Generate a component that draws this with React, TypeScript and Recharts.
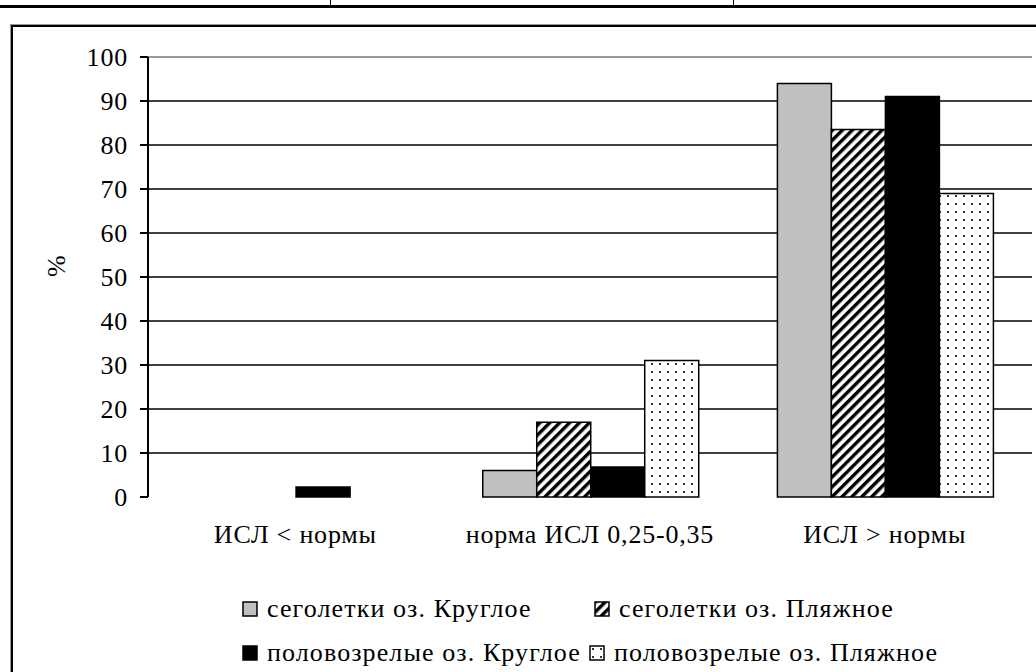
import { BarChart, Bar, XAxis, YAxis, CartesianGrid, ReferenceLine } from 'recharts';

const categories = ['ИСЛ < нормы', 'норма ИСЛ 0,25-0,35', 'ИСЛ > нормы'];
const segoletkiKrugloe = [0, 6, 94];
const segoletkiPlyazhnoe = [0, 17, 83.5];
const polovozrelyeKrugloe = [2.3, 6.8, 91];
const polovozrelyePlyazhnoe = [0, 31, 69];
const seriesNames = [
  'сеголетки оз. Круглое',
  'сеголетки оз. Пляжное',
  'половозрелые оз. Круглое',
  'половозрелые оз. Пляжное',
];
const yTicks = [0, 10, 20, 30, 40, 50, 60, 70, 80, 90, 100];
const gridTicks = [10, 20, 30, 40, 50, 60, 70, 80, 90];
const boundaryTicks = [0, 1, 2, 3];

const seriesValues = [segoletkiKrugloe, segoletkiPlyazhnoe, polovozrelyeKrugloe, polovozrelyePlyazhnoe];
const fills = ['#c0c0c0', 'url(#hatch)', '#000000', 'url(#dots)'];

const data = categories.map((name, i) => {
  const row: Record<string, string | number> = { name };
  seriesValues.forEach((vals, j) => {
    row['s' + j] = vals[i];
  });
  return row;
});

const FONT = '"Liberation Serif", "Times New Roman", serif';
const FS = 26;
const LS = 0.8;

export default function App() {
  // legend item positions (left, top) in reading order
  const legendPos = [
    [242, 594],
    [594, 594],
    [242, 638],
    [589, 638],
  ];
  const tickStyle = { fill: '#000', fontFamily: FONT, fontSize: FS, letterSpacing: LS };

  return (
    <div style={{ position: 'fixed', left: 0, top: 0, width: 1036, height: 672, overflow: 'hidden', background: '#fff' }}>
      <svg width={0} height={0} style={{ position: 'absolute' }}>
        <defs>
          <pattern id='hatch' width={7} height={7} patternUnits='userSpaceOnUse' patternTransform='rotate(45)'>
            <rect width={7} height={7} fill='#fff' />
            <rect x={0} y={0} width={3.4} height={7} fill='#000' />
          </pattern>
          <pattern id='dots' width={8} height={8} patternUnits='userSpaceOnUse'>
            <rect width={8} height={8} fill='#fff' />
            <rect x={3} y={3} width={2} height={2} fill='#333' />
          </pattern>
        </defs>
      </svg>

      {/* table borders above the figure */}
      <div style={{ position: 'absolute', left: 0, top: 5, width: 1036, height: 3, background: '#000' }} />
      <div style={{ position: 'absolute', left: 330, top: 0, width: 1, height: 7, background: '#000' }} />
      <div style={{ position: 'absolute', left: 733, top: 0, width: 1, height: 7, background: '#000' }} />

      {/* chart frame */}
      <div
        style={{
          position: 'absolute',
          left: 11,
          top: 25,
          width: 1100,
          height: 700,
          borderLeft: '2px solid #000',
          borderTop: '2px solid #000',
          boxShadow: '-1px -1px 0 #999',
        }}
      />

      <div style={{ position: 'absolute', left: 0, top: 0 }}>
        <BarChart
          width={1036}
          height={672}
          data={data}
          margin={{ top: 57, right: 4, bottom: 0, left: 0 }}
          barCategoryGap='13.6%'
          barGap={0}
        >
          <CartesianGrid horizontal vertical={false} horizontalValues={gridTicks} stroke='#000' strokeWidth={1.6} />
          <XAxis
            xAxisId='b'
            type='number'
            domain={[0, 3]}
            ticks={boundaryTicks}
            tick={false}
            tickSize={8}
            height={0}
            stroke='#000'
            strokeWidth={2}
          />
          <XAxis
            dataKey='name'
            tickLine={false}
            axisLine={false}
            height={175}
            tickMargin={22}
            tick={tickStyle}
          />
          <YAxis
            domain={[0, 100]}
            ticks={yTicks}
            width={148}
            tickSize={8}
            tickMargin={12}
            stroke='#000'
            strokeWidth={2}
            tick={tickStyle}
            label={{ value: '%', angle: -90, position: 'insideLeft', offset: 56, fill: '#000', fontFamily: FONT, fontSize: FS }}
          />
          <ReferenceLine y={100} stroke='#999' strokeWidth={2} />
          <ReferenceLine x={3} xAxisId='b' stroke='#999' strokeWidth={2} />
          {seriesNames.map((n, j) => (
            <Bar
              key={n}
              dataKey={'s' + j}
              name={n}
              fill={fills[j]}
              stroke='#000'
              strokeWidth={1.5}
              isAnimationActive={false}
            />
          ))}
        </BarChart>
      </div>

      {seriesNames.map((n, j) => (
        <div
          key={n}
          style={{
            position: 'absolute',
            left: legendPos[j][0],
            top: legendPos[j][1],
            display: 'flex',
            alignItems: 'center',
            fontFamily: FONT,
            fontSize: FS,
            letterSpacing: 1.1,
            whiteSpace: 'nowrap',
            color: '#000',
          }}
        >
          <svg width={17} height={17}>
            <rect x={1} y={1} width={14} height={14} fill={fills[j]} stroke='#000' strokeWidth={1.5} />
          </svg>
          <span style={{ marginLeft: 8 }}>{n}</span>
        </div>
      ))}
    </div>
  );
}
